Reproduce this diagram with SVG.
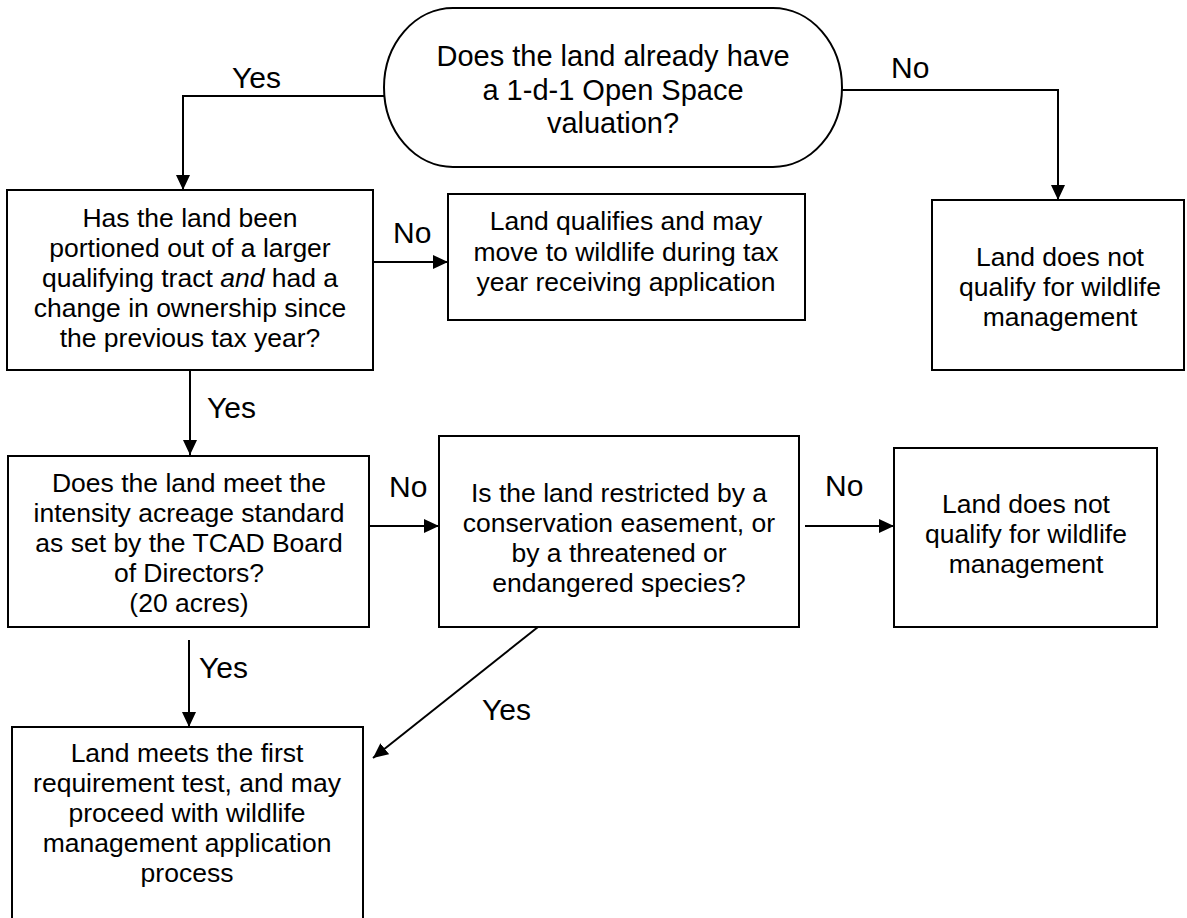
<svg xmlns="http://www.w3.org/2000/svg" width="1187" height="918" viewBox="0 0 1187 918">
<style>
.box{fill:#fff;stroke:#000;stroke-width:2}
.t{font-family:"Liberation Sans",Arial,sans-serif;font-size:26.5px;fill:#000;text-anchor:middle}
.tt{font-family:"Liberation Sans",Arial,sans-serif;font-size:29px;fill:#000;text-anchor:middle}
.lbl{font-family:"Liberation Sans",Arial,sans-serif;font-size:30px;fill:#000}
.c{fill:none;stroke:#000;stroke-width:2}
</style>
<defs>
<marker id="ah" markerUnits="userSpaceOnUse" markerWidth="16" markerHeight="14" refX="15" refY="7" orient="auto">
<path d="M0,0 L15,7 L0,14 z" fill="#000"/>
</marker>
</defs>
<rect width="1187" height="918" fill="#fff"/>
<g id="connectors">
<polyline class="c" points="384,96 183,96 183,190" marker-end="url(#ah)"/>
<polyline class="c" points="842,90 1058,90 1058,200" marker-end="url(#ah)"/>
<line class="c" x1="373" y1="262" x2="448" y2="262" marker-end="url(#ah)"/>
<line class="c" x1="190" y1="370" x2="190" y2="455" marker-end="url(#ah)"/>
<line class="c" x1="369" y1="526" x2="439" y2="526" marker-end="url(#ah)"/>
<line class="c" x1="805" y1="526" x2="894" y2="526" marker-end="url(#ah)"/>
<line class="c" x1="189" y1="640" x2="189" y2="727" marker-end="url(#ah)"/>
<line class="c" x1="538" y1="627" x2="373" y2="758" marker-end="url(#ah)"/>
<text class="lbl" x="232" y="88">Yes</text>
<text class="lbl" x="891" y="78">No</text>
<text class="lbl" x="393" y="243">No</text>
<text class="lbl" x="207" y="418">Yes</text>
<text class="lbl" x="389" y="497">No</text>
<text class="lbl" x="825" y="496">No</text>
<text class="lbl" x="199" y="678">Yes</text>
<text class="lbl" x="482" y="720">Yes</text>
</g>
<g id="start">
<rect class="box" x="384" y="8" width="458" height="159" rx="69" ry="79.5"/>
<text class="tt" x="613" y="66">Does the land already have</text>
<text class="tt" x="613" y="100">a 1-d-1 Open Space</text>
<text class="tt" x="613" y="133">valuation?</text>
</g>
<g id="portioned">
<rect class="box" x="7" y="190" width="366" height="180"/>
<text class="t" x="190" y="227">Has the land been</text>
<text class="t" x="190" y="257">portioned out of a larger</text>
<text class="t" x="190" y="287">qualifying tract <tspan font-style="italic">and</tspan> had a</text>
<text class="t" x="190" y="317">change in ownership since</text>
<text class="t" x="190" y="347">the previous tax year?</text>
</g>
<g id="qualifies">
<rect class="box" x="448" y="194" width="357" height="126"/>
<text class="t" x="626" y="230">Land qualifies and may</text>
<text class="t" x="626" y="261">move to wildlife during tax</text>
<text class="t" x="626" y="291">year receiving application</text>
</g>
<g id="notqualify1">
<rect class="box" x="932" y="200" width="252" height="170"/>
<text class="t" x="1060" y="266">Land does not</text>
<text class="t" x="1060" y="296">qualify for wildlife</text>
<text class="t" x="1060" y="326">management</text>
</g>
<g id="intensity">
<rect class="box" x="8" y="456" width="361" height="171"/>
<text class="t" x="189" y="492">Does the land meet the</text>
<text class="t" x="189" y="522">intensity acreage standard</text>
<text class="t" x="189" y="552">as set by the TCAD Board</text>
<text class="t" x="189" y="582">of Directors?</text>
<text class="t" x="189" y="612">(20 acres)</text>
</g>
<g id="restricted">
<rect class="box" x="439" y="436" width="360" height="191"/>
<text class="t" x="619" y="502">Is the land restricted by a</text>
<text class="t" x="619" y="532">conservation easement, or</text>
<text class="t" x="619" y="562">by a threatened or</text>
<text class="t" x="619" y="592">endangered species?</text>
</g>
<g id="notqualify2">
<rect class="box" x="894" y="448" width="263" height="179"/>
<text class="t" x="1026" y="513">Land does not</text>
<text class="t" x="1026" y="543">qualify for wildlife</text>
<text class="t" x="1026" y="573">management</text>
</g>
<g id="meets">
<rect class="box" x="12" y="727" width="351" height="200"/>
<text class="t" x="187" y="762">Land meets the first</text>
<text class="t" x="187" y="792">requirement test, and may</text>
<text class="t" x="187" y="822">proceed with wildlife</text>
<text class="t" x="187" y="852">management application</text>
<text class="t" x="187" y="882">process</text>
</g>
</svg>
